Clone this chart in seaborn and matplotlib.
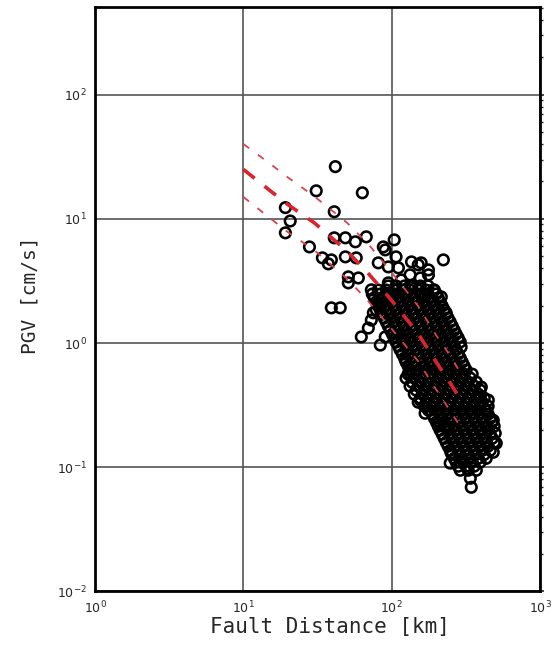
import pandas as pd
import seaborn as sns
import matplotlib.pyplot as plt
from matplotlib.ticker import LogLocator, NullFormatter

# scattered stations away from the main cloud (distance km, PGV cm/s)
sparse_dist = [41.7, 31.0, 63.4, 19.2, 20.7, 19.2, 41.0, 27.9, 34.1, 37.4,
               39.2, 41.0, 48.7, 56.9, 67.4, 48.7, 57.7, 51.0, 59.6, 51.0,
               72.9, 39.2, 45.0, 62.4, 83.8, 104, 87.8, 223, 294, 158,
               177, 136, 107, 81.2, 94.9, 151, 156, 133, 177, 94.9,
               106, 191, 216, 168, 81.2, 75.2, 136, 233, 90.5, 111,
               116, 83.8, 78.8, 72.9, 69.6, 90.5, 107, 124, 133, 156,
               177, 213, 240, 281, 402, 395, 427, 484, 499, 507,
               484, 402, 248, 290, 252, 339, 344, 168, 206, 448]
sparse_pgv = [26.3, 16.8, 16.2, 12.3, 9.6, 7.71, 11.4, 5.94, 4.85, 4.34,
              4.67, 7.03, 7.03, 6.53, 7.16, 4.94, 4.85, 3.41, 3.34, 3.05,
              2.68, 1.92, 1.92, 1.12, 0.963, 6.77, 5.94, 4.67, 0.928, 4.42,
              3.88, 4.50, 4.94, 4.42, 4.10, 4.26, 3.34, 3.54, 3.54, 3.05,
              2.68, 2.68, 2.35, 2.44, 2.10, 1.75, 2.78, 1.75, 5.62, 4.03,
              3.22, 2.22, 1.85, 1.53, 1.32, 1.12, 1.12, 0.729, 0.573, 0.347,
              0.288, 0.218, 0.210, 0.606, 0.442, 0.367, 0.288, 0.239, 0.188, 0.156,
              0.132, 0.199, 0.108, 0.110, 0.130, 0.0815, 0.069, 0.272, 0.226, 0.347]

# dense cloud, read row by row: one PGV level and the distances seen at it
core_pgv = [2.88, 2.48, 2.14, 1.85, 1.59, 1.37, 1.18, 1.02, 0.88, 0.757,
            0.653, 0.562, 0.485, 0.418, 0.360, 0.310, 0.268, 0.231, 0.199, 0.171,
            0.148, 0.127, 0.110, 0.0946]
core_dist = [
    [94.8, 107, 122, 137, 156, 176],
    [74, 83.8, 94.8, 107, 122, 137, 156, 176, 200],
    [78.7, 89.1, 101, 114, 129, 146, 166, 188, 212],
    [83.8, 94.8, 107, 122, 137, 156, 176, 200, 226],
    [89.1, 101, 114, 129, 146, 166, 188, 212, 240],
    [94.8, 107, 122, 137, 156, 176, 200, 226, 256],
    [101, 114, 129, 146, 166, 188, 212, 240, 272],
    [107, 122, 137, 156, 176, 200, 226, 256, 290],
    [114, 129, 146, 166, 188, 212, 240, 272],
    [122, 137, 156, 176, 200, 226, 256, 290],
    [129, 146, 166, 188, 212, 240, 272, 308],
    [129, 146, 166, 188, 212, 240, 272, 308, 349],
    [137, 156, 176, 200, 226, 256, 290, 328, 372],
    [146, 166, 188, 212, 240, 272, 308, 349, 395],
    [156, 176, 200, 226, 256, 290, 328, 372, 421],
    [166, 188, 212, 240, 272, 308, 349, 395, 447],
    [188, 212, 240, 272, 308, 349, 395, 447],
    [200, 226, 256, 290, 328, 372, 421, 476],
    [212, 240, 272, 308, 349, 395, 447],
    [226, 256, 290, 328, 372, 421, 476],
    [240, 272, 308, 349, 395, 447],
    [256, 290, 328, 372, 421],
    [272, 308, 349, 395],
    [290, 328, 372],
]

# rows in between the ones above (the cloud is solid black there)
mid_pgv = [2.67, 2.31, 1.99, 1.71, 1.48, 1.27, 1.10, 0.946, 0.815, 0.703,
           0.606, 0.522, 0.450, 0.388, 0.334, 0.288, 0.248, 0.214, 0.185, 0.159,
           0.137, 0.118, 0.102]
mid_dist = [
    [81.2, 91.9, 104, 118, 133, 151, 171, 194],
    [76.3, 86.4, 97.9, 111, 125, 142, 161, 182, 206],
    [81.2, 91.9, 104, 118, 133, 151, 171, 194, 219],
    [86.4, 97.9, 111, 125, 142, 161, 182, 206, 233],
    [91.9, 104, 118, 133, 151, 171, 194, 219, 248],
    [97.9, 111, 125, 142, 161, 182, 206, 233, 264],
    [104, 118, 133, 151, 171, 194, 219, 248, 281],
    [111, 125, 142, 161, 182, 206, 233, 264],
    [118, 133, 151, 171, 194, 219, 248, 281],
    [125, 142, 161, 182, 206, 233, 264, 299],
    [133, 151, 171, 194, 219, 248, 281, 318],
    [125, 142, 161, 182, 206, 233, 264, 299, 339],
    [133, 151, 171, 194, 219, 248, 281, 318, 360],
    [142, 161, 182, 206, 233, 264, 299, 339, 383],
    [151, 171, 194, 219, 248, 281, 318, 360, 408],
    [182, 206, 233, 264, 299, 339, 383, 434],
    [194, 219, 248, 281, 318, 360, 408, 462],
    [206, 233, 264, 299, 339, 383, 434, 491],
    [219, 248, 281, 318, 360, 408, 462],
    [233, 264, 299, 339, 383, 434, 491],
    [248, 281, 318, 360, 408, 462],
    [264, 299, 339, 383, 434],
    [281, 318, 360],
]

# attenuation relation: median and +/- one sigma
line_dist = [10, 15, 20, 30, 50, 70, 100, 150, 200, 250, 300]
median_pgv = [25, 17, 13, 9.3, 5.5, 3.6, 2.2, 1.2, 0.7, 0.47, 0.33]
upper_pgv = [40, 28, 21.5, 15.2, 9.3, 6.2, 3.7, 2.0, 1.15, 0.78, 0.54]
lower_pgv = [15, 10.2, 7.8, 5.6, 3.3, 2.15, 1.3, 0.72, 0.42, 0.28, 0.2]

rows = [(d, p) for d, p in zip(sparse_dist, sparse_pgv)]
for p, ds in zip(core_pgv + mid_pgv, core_dist + mid_dist):
    rows += [(d, p) for d in ds]
df = pd.DataFrame(rows, columns=["dist", "pgv"])

sns.set_style("white")
plt.rcParams['font.family'] = ['DejaVu Sans']

fig = plt.figure(figsize=(5.57, 6.48), dpi=100)
ax = fig.add_axes([0.1706, 0.0872, 0.7989, 0.9025])
ax.set_xscale("log")
ax.set_yscale("log")

sns.scatterplot(data=df, x="dist", y="pgv", ax=ax, marker="o", s=58,
                facecolor="none", edgecolor="black", linewidth=1.85,
                legend=False, zorder=3)

sns.lineplot(x=line_dist, y=upper_pgv, ax=ax, color="#d8434d", lw=1.3,
             linestyle=(0, (4, 6)), zorder=4)
sns.lineplot(x=line_dist, y=lower_pgv, ax=ax, color="#d8434d", lw=1.3,
             linestyle=(0, (4, 6)), zorder=4)
sns.lineplot(x=line_dist, y=median_pgv, ax=ax, color="#d9232f", lw=2.6,
             linestyle=(0, (4, 3.5)), zorder=4)

ax.set_xlim(1, 1000)
ax.set_ylim(0.01, 510)
ax.xaxis.set_major_locator(LogLocator(base=10, numticks=10))
ax.yaxis.set_major_locator(LogLocator(base=10, numticks=10))
ax.yaxis.set_minor_locator(LogLocator(base=10, subs=range(2, 10), numticks=20))
ax.xaxis.set_minor_formatter(NullFormatter())
ax.yaxis.set_minor_formatter(NullFormatter())

ax.grid(True, which="major", color="#555555", lw=1.2)
ax.set_axisbelow(True)
for sp in ax.spines.values():
    sp.set_linewidth(2)
    sp.set_color("black")

ax.tick_params(which="major", direction="out", length=3, width=1.2,
               labelsize=9, right=True)
ax.tick_params(axis="x", which="major", pad=3)
ax.tick_params(axis="y", which="major", pad=3)
ax.tick_params(axis="x", which="minor", bottom=False)
ax.tick_params(axis="y", which="minor", left=False, right=True,
               direction="out", length=2.5, width=1)

ax.set_xlabel("Fault Distance [km]", fontfamily="DejaVu Sans Mono", fontsize=15)
ax.set_ylabel("PGV [cm/s]", fontfamily="DejaVu Sans Mono", fontsize=14)
ax.xaxis.set_label_coords(0.527, -0.043)
ax.yaxis.set_label_coords(-0.125, 0.507)

plt.savefig("out.png", dpi=100)
